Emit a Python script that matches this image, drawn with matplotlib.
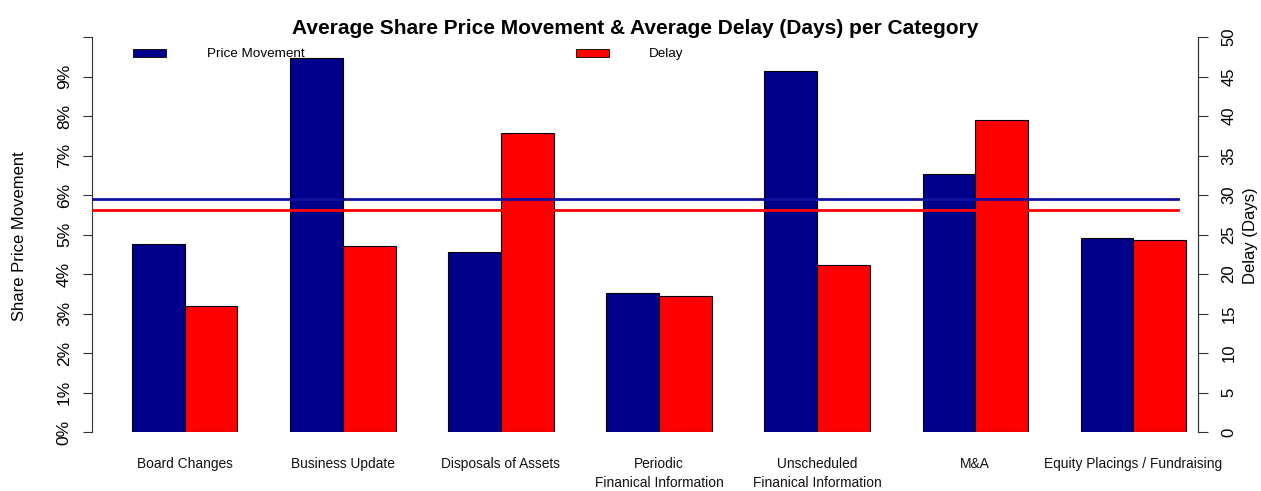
import numpy as np
import matplotlib
matplotlib.use("Agg")
from matplotlib import pyplot as plt
from matplotlib.patches import Rectangle

plt.rcParams['font.family'] = ['Liberation Sans', 'DejaVu Sans']

# values
categories = ["Board Changes", "Business Update", "Disposals of Assets",
              "Periodic\nFinanical Information", "Unscheduled\nFinanical Information",
              "M&A", "Equity Placings / Fundraising"]
price_movement = [4.75, 9.48, 4.56, 3.51, 9.13, 6.53, 4.91]   # %
delay_days = [16.0, 23.5, 37.9, 17.2, 21.1, 39.5, 24.3]        # days
avg_price = 5.90
avg_delay = 28.1
pct_ticks = [0, 1, 2, 3, 4, 5, 6, 7, 8, 9, 10]
pct_labels = ["0%", "1%", "2%", "3%", "4%", "5%", "6%", "7%", "8%", "9%", ""]
day_ticks = [0, 5, 10, 15, 20, 25, 30, 35, 40, 45, 50]

W, H = 1261, 491
BLUE = "#00008B"
RED = "#FF0000"

fig = plt.figure(figsize=(W / 100, H / 100), dpi=100)

# axes in pixel terms: spines at x=92 and x=1198, y from 432 (0) to 37 (top)
L, R, B, T = 92, 1198, 432, 37
ax = fig.add_axes([L / W, 1 - B / H, (R - L) / W, (B - T) / H])

# R-style barplot units: bar width 1, one unit gap between groups
unit = 52.7
x0 = 79.3
ax.set_xlim((L - x0) / unit, (R - x0) / unit)
ax.set_ylim(0, 10)

n = len(categories)
left_pos = np.array([1 + 3 * i for i in range(n)])
# delay is plotted on the same scale: 50 days = 10%
ax.bar(left_pos, price_movement, width=1, align="edge", color=BLUE,
       edgecolor="black", linewidth=0.8, zorder=2)
ax.bar(left_pos + 1, np.array(delay_days) / 5, width=1, align="edge", color=RED,
       edgecolor="black", linewidth=0.8, zorder=2)

line_end = (1178 - x0) / unit
ax.plot([(L - x0) / unit, line_end], [avg_price, avg_price], color="#1010A0", lw=2, zorder=3)
ax.plot([(L - x0) / unit, line_end], [avg_delay / 5, avg_delay / 5], color=RED, lw=2, zorder=3)

for s in ["top", "bottom"]:
    ax.spines[s].set_visible(False)
ax.spines["left"].set_color("#333333")
ax.spines["right"].set_color("#333333")
ax.set_xticks([])
ax.set_yticks(pct_ticks)
ax.set_yticklabels(pct_labels, rotation=90, va="center", fontsize=12.5)
ax.tick_params(axis="y", length=6.5, color="#333333", pad=8)

ax2 = ax.twinx()
ax2.set_ylim(0, 50)
for s in ["top", "bottom", "left"]:
    ax2.spines[s].set_visible(False)
ax2.spines["right"].set_color("#333333")
ax2.set_yticks(day_ticks)
ax2.set_yticklabels([str(d) for d in day_ticks], rotation=90, va="center", fontsize=12)
ax2.tick_params(axis="y", length=7, color="#333333", pad=10)

# category labels
for i, cat in enumerate(categories):
    ax.text(left_pos[i] + 1, -0.64, cat, ha="center", va="top", fontsize=9.9,
            linespacing=1.4, color="#111111")

def fx(px):
    return px / W

def fy(py):
    return 1 - py / H

fig.text(fx(635), fy(28), "Average Share Price Movement & Average Delay (Days) per Category",
         ha="center", va="center", fontsize=15, fontweight="bold")
fig.text(fx(20), fy(236), "Share Price Movement", rotation=90, ha="center", va="center",
         fontsize=12)
fig.text(fx(1250), fy(236), "Delay (Days)", rotation=90, ha="center", va="center",
         fontsize=12)

# legend
fig.add_artist(Rectangle((fx(133), fy(57)), (166 - 133) / W, 8 / H, transform=fig.transFigure,
                         facecolor=BLUE, edgecolor="black", linewidth=0.6))
fig.text(fx(207), fy(54), "Price Movement", ha="left", va="center", fontsize=9.7)
fig.add_artist(Rectangle((fx(576), fy(57)), (609 - 576) / W, 8 / H, transform=fig.transFigure,
                         facecolor=RED, edgecolor="black", linewidth=0.6))
fig.text(fx(649), fy(54), "Delay", ha="left", va="center", fontsize=9.7)

fig.savefig("out.png", dpi=100)
